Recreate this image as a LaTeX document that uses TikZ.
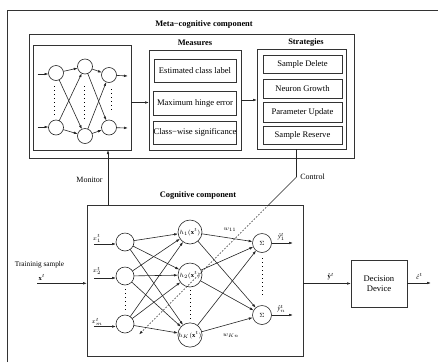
\documentclass[tikz,border=0pt]{standalone}
\usepackage{fontspec}
\setmainfont{Liberation Serif}
\usetikzlibrary{arrows.meta,calc}
\begin{document}
\begin{tikzpicture}[x=1pt,y=-1pt,
  box/.style={draw=black!80, line width=0.8pt, rectangle, inner sep=0pt, outer sep=0pt,
    font=\fontsize{8.6}{10.5}\selectfont, align=center},
  neu/.style={draw=black!85, line width=0.6pt, circle, inner sep=0pt, outer sep=0pt},
  arr/.style={draw=black!85, line width=0.6pt, -{Latex[length=4pt,width=2.6pt]}},
  ln/.style={draw=black!85, line width=0.6pt},
  dots/.style={draw=black, line width=1pt, dash pattern=on 1pt off 3pt},
  ttl/.style={font=\bfseries\fontsize{8.4}{10}\selectfont, inner sep=0pt},
  lbl/.style={font=\fontsize{8}{10}\selectfont, inner sep=0pt},
  sm/.style={font=\fontsize{6.5}{8}\selectfont, inner sep=0pt},
]
\useasboundingbox (0,0) rectangle (438,362);
% outer frame
\draw[line width=0.8pt, black!80] (7,362) -- (7,10.5) -- (438,10.5);

% ---------- meta-cognitive component ----------
\node[box, minimum width=325pt, minimum height=124pt] (meta) at (191.5,96) {};
\node[ttl] (metat) at (204,25) {Meta−cognitive component};

\node[box, minimum width=98pt, minimum height=105pt] (nn) at (82,97.5) {};
\node[box, minimum width=92pt, minimum height=100pt] (meas) at (195,100) {};
\node[ttl] (meast) at (195,43) {Measures};
\node[box, minimum width=82pt, minimum height=23pt] (m1) at (195,70.5) {Estimated class label};
\node[box, minimum width=83pt, minimum height=24pt] (m2) at (195,103) {Maximum hinge error};
\node[box, minimum width=82pt, minimum height=23pt] (m3) at (195,132.5) {Class−wise significance};

\node[box, minimum width=89pt, minimum height=100pt] (strat) at (301.5,99) {};
\node[ttl] (stratt) at (306,42.5) {Strategies};
\node[box, minimum width=79pt, minimum height=18pt] (s1) at (302.5,64) {Sample Delete};
\node[box, minimum width=79pt, minimum height=19pt] (s2) at (302.5,88.5) {Neuron Growth};
\node[box, minimum width=79pt, minimum height=20pt] (s3) at (302.5,112) {Parameter Update};
\node[box, minimum width=79pt, minimum height=18pt] (s4) at (302.5,135) {Sample Reserve};

\draw[arr] (nn.east |- 0,102.5) coordinate (nnr) -- (nnr -| meas.west);
\draw[arr] (meas.east |- 0,100) coordinate (msr) -- (msr -| strat.west);

% small network in meta box
\node[neu, minimum size=15pt] (a1) at (56,73) {};
\node[neu, minimum size=15pt] (a2) at (56,127.5) {};
\node[neu, minimum size=15pt] (b1) at (85,66.5) {};
\node[neu, minimum size=15pt] (b2) at (85,136) {};
\node[neu, minimum size=15pt] (c1) at (109,75) {};
\node[neu, minimum size=15pt] (c2) at (109,127.5) {};
\coordinate (ai1) at (37.5,74);
\coordinate (ai2) at (37.5,127);
\coordinate (co1) at (128,76);
\coordinate (co2) at (128,128);
\draw[arr] (ai1) -- (ai1 -| a1.west);
\draw[arr] (ai2) -- (ai2 -| a2.west);
\draw[arr] (c1) -- (co1);
\draw[arr] (c2) -- (co2);
\foreach \s in {a1,a2} \foreach \t in {b1,b2} \draw[arr] (\s) -- (\t);
\foreach \s in {b1,b2} \foreach \t in {c1,c2} \draw[arr] (\s) -- (\t);
\draw[dots] (54.5,86) -- (54.5,116);
\draw[dots] (84.5,86) -- (84.5,119);
\draw[dots] (111,89) -- (111,113);

% ---------- cognitive component ----------
\node[box, minimum width=216pt, minimum height=151pt] (cog) at (195,280.5) {};
\node[ttl] (cogt) at (198,196) {Cognitive component};

\node[neu, minimum size=18pt] (in1) at (125,242) {};
\node[neu, minimum size=18pt] (in2) at (125,276) {};
\node[neu, minimum size=18pt] (in3) at (125,324) {};
\node[neu, minimum size=24pt, sm] (h1) at (190,232) {$h_1(\mathbf{x}^t)$};
\node[neu, minimum size=24pt, sm] (h2) at (190,275) {$h_2(\mathbf{x}^t)$};
\node[neu, minimum size=24pt, sm] (h3) at (190,335) {$h_K(\mathbf{x}^t)$};
\node[neu, minimum size=19pt, sm] (o1) at (262,243) {$\Sigma$};
\node[neu, minimum size=19pt, sm] (o2) at (262,315) {$\Sigma$};

\coordinate (xi1) at (94,244);
\coordinate (xi2) at (94,278);
\coordinate (xi3) at (94,326.5);
\draw[arr] (xi1) -- (xi1 -| in1.west);
\draw[arr] (xi2) -- (xi2 -| in2.west);
\draw[arr] (xi3) -- (xi3 -| in3.west);
\node[sm] (lx1) at (97,238.5) {$x_1^t$};
\node[sm] (lx2) at (97,271) {$x_2^t$};
\node[sm] (lx3) at (97,322) {$x_m^t$};

\foreach \s in {in1,in2,in3} \foreach \t in {h1,h2,h3} \draw[arr] (\s) -- (\t);
\foreach \s in {h1,h2,h3} \foreach \t in {o1,o2} \draw[arr] (\s) -- (\t);
\node[sm] (w11) at (230,230) {$w_{11}$};
\node[sm] (wkn) at (231,336) {$w_{Kn}$};

\coordinate (ye1) at (293,243);
\coordinate (ye2) at (293,315);
\draw[arr] (o1) -- (ye1);
\draw[arr] (o2) -- (ye2);
\node[sm] (ly1) at (281.5,237) {\textit{ŷ}$_1^t$};
\node[sm] (ly2) at (281.5,309) {\textit{ŷ}$_n^t$};

\draw[dots] (125,289) -- (125,312);
\draw[dots] (190,290) -- (190,320);
\draw[dots] (262,258) -- (262,297);

% training input
\coordinate (xin) at (37,283.3);
\draw[arr] (xin) -- (xin -| cog.west);
\node[font=\fontsize{7.3}{9}\selectfont, inner sep=0pt] (tr) at (39.5,264.5) {Traininig sample};
\node[sm] (xt) at (42,277.5) {$\mathbf{x}^t$};

% decision device
\node[box, minimum width=56pt, minimum height=47pt] (dec) at (379,283.5) {Decision\\Device};
\draw[arr] (cog.east |- dec.west) -- (dec.west);
\node[sm] (yt) at (331,276.5) {\textbf{ŷ}$^t$};
\coordinate (cout) at (431,283);
\draw[arr] (dec.east |- cout) -- (cout);
\node[sm] (ct) at (419.5,276.5) {\textit{ĉ}$^t$};

% monitor
\coordinate (mon) at (108,180);
\draw[arr] (cog.north -| mon) -- (nn.south -| mon);
\node[lbl] (monl) at (89.5,180) {Monitor};

% control
\coordinate (cbend) at (296.5,177);
\coordinate (cin) at (268.5,205);
\coordinate (cend) at (139,334.5);
\draw[ln] (strat.south -| cbend) -- (cbend) -- (cin);
\draw[ln, dash pattern=on 1.6pt off 1.6pt, -{Latex[length=4pt,width=2.6pt]}] (cin) -- (cend);
\node[lbl] (ctl) at (312.5,177) {Control};
\end{tikzpicture}
\end{document}
